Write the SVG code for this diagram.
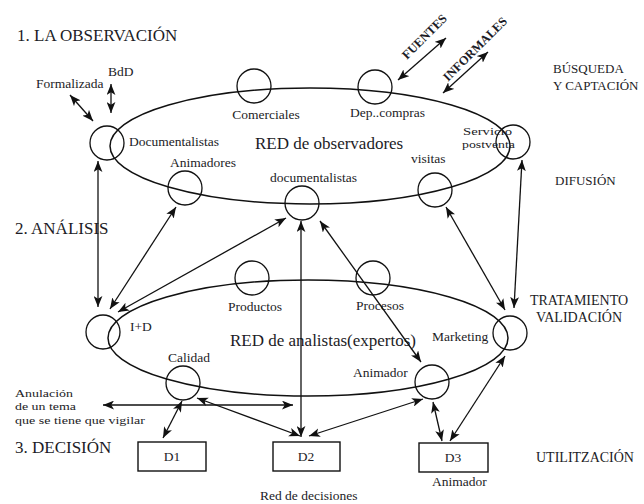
<svg xmlns="http://www.w3.org/2000/svg" width="644" height="504" viewBox="0 0 644 504">
  <style>
    text { font-family: "Liberation Serif", "Times New Roman", serif; fill: #1c1c26; }
    .h { font-size: 17px; }
    .net { font-size: 17px; }
    .lbl { font-size: 13.5px; }
    .sm { font-size: 11px; }
    .side { font-size: 13px; }
    .side2 { font-size: 14px; }
    .tag { font-size: 12.5px; font-weight: bold; }
    .ring { fill: none; stroke: #111; stroke-width: 1.3; }
    .oval { fill: none; stroke: #111; stroke-width: 1.5; }
    .box { fill: #fff; stroke: #111; stroke-width: 1.4; }
    .arr { fill: none; stroke: #111; stroke-width: 1.3; marker-start: url(#ah); marker-end: url(#ah); }
  </style>
  <defs>
    <marker id="ah" viewBox="0 0 10 8" refX="10" refY="4" markerWidth="11" markerHeight="9" markerUnits="userSpaceOnUse" orient="auto-start-reverse">
      <path d="M0,0 L10,4 L0,8 L2.5,4 z" fill="#111"/>
    </marker>
  </defs>

  <!-- stage headings -->
  <g id="headings">
    <text class="h" x="17" y="41">1. LA OBSERVACIÓN</text>
    <text class="h" x="15" y="234">2. ANÁLISIS</text>
    <text class="h" x="15" y="453">3. DECISIÓN</text>
    <text class="side" x="553" y="73">BÚSQUEDA</text>
    <text class="side" x="553" y="90">Y CAPTACIÓN</text>
    <text class="side" x="555" y="185">DIFUSIÓN</text>
    <text class="side2" x="579" y="305" text-anchor="middle">TRATAMIENTO</text>
    <text class="side2" x="579" y="322" text-anchor="middle">VALIDACIÓN</text>
    <text class="side2" x="536" y="462">UTILITZACIÓN</text>
  </g>

  <!-- observer network -->
  <g id="red-observadores">
    <ellipse class="oval" cx="310" cy="146" rx="200" ry="58"/>
    <text class="net" x="255" y="149">RED de observadores</text>
  </g>
  <g id="n-documentalistas-obs">
    <circle class="ring" cx="107" cy="143" r="17"/>
    <text class="lbl" x="129" y="146">Documentalistas</text>
  </g>
  <g id="n-comerciales">
    <circle class="ring" cx="254" cy="86" r="17"/>
    <text class="lbl" x="266" y="119" text-anchor="middle">Comerciales</text>
  </g>
  <g id="n-dep-compras">
    <circle class="ring" cx="375" cy="87" r="17"/>
    <text class="lbl" x="350" y="117">Dep..compras</text>
  </g>
  <g id="n-servicio-postventa">
    <circle class="ring" cx="513" cy="142" r="17"/>
    <text class="sm" x="463" y="135" textLength="49" lengthAdjust="spacingAndGlyphs">Servicio</text>
    <text class="sm" x="462" y="148" textLength="53" lengthAdjust="spacingAndGlyphs">postventa</text>
  </g>
  <g id="n-animadores">
    <circle class="ring" cx="185" cy="188" r="17"/>
    <text class="lbl" x="170" y="167">Animadores</text>
  </g>
  <g id="n-documentalistas">
    <circle class="ring" cx="302" cy="203" r="17"/>
    <text class="lbl" x="270" y="182">documentalistas</text>
  </g>
  <g id="n-visitas">
    <circle class="ring" cx="435" cy="190" r="17"/>
    <text class="lbl" x="411" y="163">visitas</text>
  </g>
  <g id="external-sources">
    <text class="lbl" x="36" y="88">Formalizada</text>
    <text class="lbl" x="108" y="76">BdD</text>
    <text class="tag" transform="translate(407,60) rotate(-45)">FUENTES</text>
    <text class="tag" transform="translate(448,82) rotate(-45)">INFORMALES</text>
  </g>

  <!-- analyst network -->
  <g id="red-analistas">
    <ellipse class="oval" cx="308" cy="338" rx="200" ry="58"/>
    <text class="net" x="230" y="346">RED de analistas(expertos)</text>
  </g>
  <g id="n-id">
    <circle class="ring" cx="103" cy="332" r="17"/>
    <text class="lbl" x="130" y="331">I+D</text>
  </g>
  <g id="n-productos">
    <circle class="ring" cx="252" cy="278" r="17"/>
    <text class="lbl" x="228" y="311">Productos</text>
  </g>
  <g id="n-procesos">
    <circle class="ring" cx="373" cy="278" r="17"/>
    <text class="lbl" x="356" y="310">Procesos</text>
  </g>
  <g id="n-marketing">
    <circle class="ring" cx="510" cy="333" r="17"/>
    <text class="lbl" x="432" y="341">Marketing</text>
  </g>
  <g id="n-calidad">
    <circle class="ring" cx="183" cy="383" r="17"/>
    <text class="lbl" x="168" y="362">Calidad</text>
  </g>
  <g id="n-animador">
    <circle class="ring" cx="432" cy="382" r="17"/>
    <text class="lbl" x="353" y="377">Animador</text>
  </g>
  <g id="anulacion">
    <text class="sm" x="15" y="397" textLength="58" lengthAdjust="spacingAndGlyphs">Anulación</text>
    <text class="sm" x="15" y="410" textLength="61" lengthAdjust="spacingAndGlyphs">de un tema</text>
    <text class="sm" x="15" y="424" textLength="130" lengthAdjust="spacingAndGlyphs">que se tiene que vigilar</text>
  </g>

  <!-- decision network -->
  <g id="n-d1">
    <rect class="box" x="138" y="442" width="68" height="29"/>
    <text class="lbl" x="172" y="461" text-anchor="middle">D1</text>
  </g>
  <g id="n-d2">
    <rect class="box" x="273" y="442" width="67" height="29"/>
    <text class="lbl" x="306" y="461" text-anchor="middle">D2</text>
  </g>
  <g id="n-d3">
    <rect class="box" x="419" y="443" width="69" height="29"/>
    <text class="lbl" x="453" y="462" text-anchor="middle">D3</text>
    <text class="lbl" x="432" y="486">Animador</text>
  </g>
  <g id="red-decisiones">
    <text class="lbl" x="260" y="500">Red de decisiones</text>
  </g>

  <!-- connectors -->
  <g id="connectors">
    <line class="arr" x1="70" y1="95" x2="93" y2="121"/>
    <line class="arr" x1="111" y1="84" x2="111" y2="113"/>
    <line class="arr" x1="398" y1="80" x2="446" y2="38"/>
    <line class="arr" x1="443" y1="93" x2="488" y2="52"/>
    <line class="arr" x1="98" y1="161" x2="98" y2="307"/>
    <line class="arr" x1="176" y1="207" x2="110" y2="309"/>
    <line class="arr" x1="286" y1="218" x2="118" y2="312"/>
    <line class="arr" x1="301" y1="221" x2="301" y2="437"/>
    <line class="arr" x1="320" y1="221" x2="421" y2="362"/>
    <line class="arr" x1="446" y1="207" x2="505" y2="310"/>
    <line class="arr" x1="522" y1="160" x2="514" y2="308"/>
    <line class="arr" x1="103" y1="405" x2="293" y2="405"/>
    <line class="arr" x1="182" y1="401" x2="163" y2="438"/>
    <line class="arr" x1="197" y1="398" x2="300" y2="436"/>
    <line class="arr" x1="423" y1="399" x2="309" y2="436"/>
    <line class="arr" x1="433" y1="402" x2="442" y2="441"/>
    <line class="arr" x1="505" y1="356" x2="450" y2="441"/>
  </g>
</svg>
